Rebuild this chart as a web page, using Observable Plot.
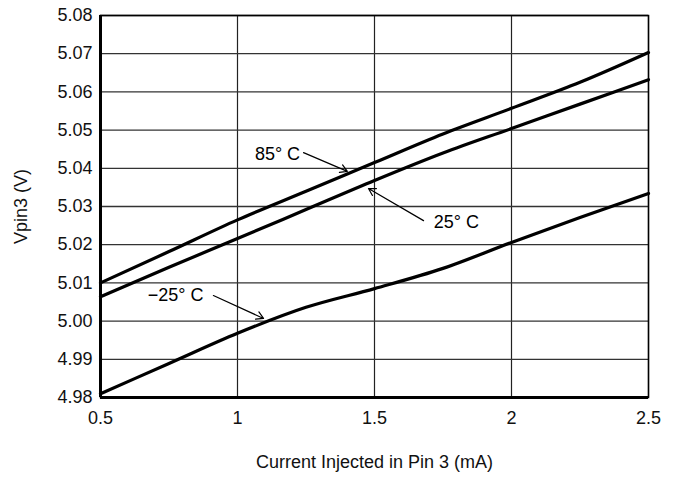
<!DOCTYPE html>
<html>
<head>
<meta charset="utf-8">
<script src="https://cdn.jsdelivr.net/npm/d3@7"></script>
<script src="https://cdn.jsdelivr.net/npm/@observablehq/plot@0.6"></script>
<style>
  body { margin: 0; background: #fff; }
  #chart svg { display: block; }
</style>
</head>
<body>
<div id="chart"></div>
<script>
// Current injected in pin 3 (mA)
const current = [0.5, 0.75, 1.0, 1.25, 1.5, 1.75, 2.0, 2.25, 2.5];
// Vpin3 (V) per temperature
const v85  = [5.0100, 5.0182, 5.0265, 5.0340, 5.0415, 5.0490, 5.0557, 5.0625, 5.0703];
const v25  = [5.0064, 5.0141, 5.0216, 5.0292, 5.0368, 5.0440, 5.0504, 5.0568, 5.0632];
const vm25 = [4.9810, 4.9889, 4.9968, 5.0036, 5.0085, 5.0138, 5.0206, 5.0271, 5.0334];
const seriesNames = ["85° C", "25° C", "−25° C"];

const xTicks = [0.5, 1, 1.5, 2, 2.5];
const xTickLabels = ["0.5", "1", "1.5", "2", "2.5"];
const yTicks = [4.98, 4.99, 5.00, 5.01, 5.02, 5.03, 5.04, 5.05, 5.06, 5.07, 5.08];

// annotation labels and arrows (data units)
const labelText = ["85° C", "25° C", "−25° C"];
const labelX = [1.146, 1.799, 0.774];
const labelY = [5.0436, 5.0258, 5.0067];
const arrowX1 = [1.241, 1.679, 0.912];
const arrowY1 = [5.0441, 5.0263, 5.0067];
const arrowX2 = [1.401, 1.478, 1.095];
const arrowY2 = [5.0392, 5.0347, 5.0007];

const rows = [];
[v85, v25, vm25].forEach((vals, s) => {
  vals.forEach((v, i) => rows.push({series: seriesNames[s], x: current[i], y: v}));
});
const labels = labelText.map((t, i) => ({t, x: labelX[i], y: labelY[i]}));
const arrows = labelText.map((t, i) => ({x1: arrowX1[i], y1: arrowY1[i], x2: arrowX2[i], y2: arrowY2[i]}));

const chart = Plot.plot({
  width: 676,
  height: 478,
  marginLeft: 100,
  marginRight: 28,
  marginTop: 15,
  marginBottom: 81,
  style: {fontFamily: "'Liberation Sans', Arial, sans-serif", fontSize: "18px", background: "#fff", color: "#111"},
  x: {domain: [0.5, 2.5], label: null},
  y: {domain: [4.98, 5.08], label: null},
  marks: [
    Plot.gridX(xTicks, {stroke: "#222", strokeOpacity: 1, strokeWidth: 1.2}),
    Plot.gridY(yTicks, {stroke: "#333", strokeOpacity: 1, strokeWidth: 1.3}),
    Plot.frame({stroke: "#000", strokeWidth: 1.5}),
    Plot.ruleX([0.5], {stroke: "#000", strokeWidth: 3}),
    Plot.ruleY([4.98], {stroke: "#000", strokeWidth: 3}),
    Plot.axisX(xTicks, {tickSize: 0, tickPadding: 14, fontSize: 18, tickFormat: (d, i) => xTickLabels[i], label: "Current Injected in Pin 3 (mA)", labelAnchor: "center", labelArrow: "none", labelOffset: 70}),
    Plot.axisY(yTicks, {tickSize: 0, tickPadding: 8, fontSize: 18, tickFormat: d3.format(".2f"), label: "Vpin3 (V)", labelAnchor: "center", labelArrow: "none", labelOffset: 86}),
    Plot.line(rows, {x: "x", y: "y", z: "series", stroke: "#000", strokeWidth: 3.2, curve: "monotone-x"}),
    Plot.arrow(arrows, {x1: "x1", y1: "y1", x2: "x2", y2: "y2", stroke: "#000", strokeWidth: 1.2, headLength: 10}),
    Plot.text(labels, {x: "x", y: "y", text: "t", fill: "#000", fontSize: 18})
  ]
});
document.getElementById("chart").append(chart);
</script>
</body>
</html>
